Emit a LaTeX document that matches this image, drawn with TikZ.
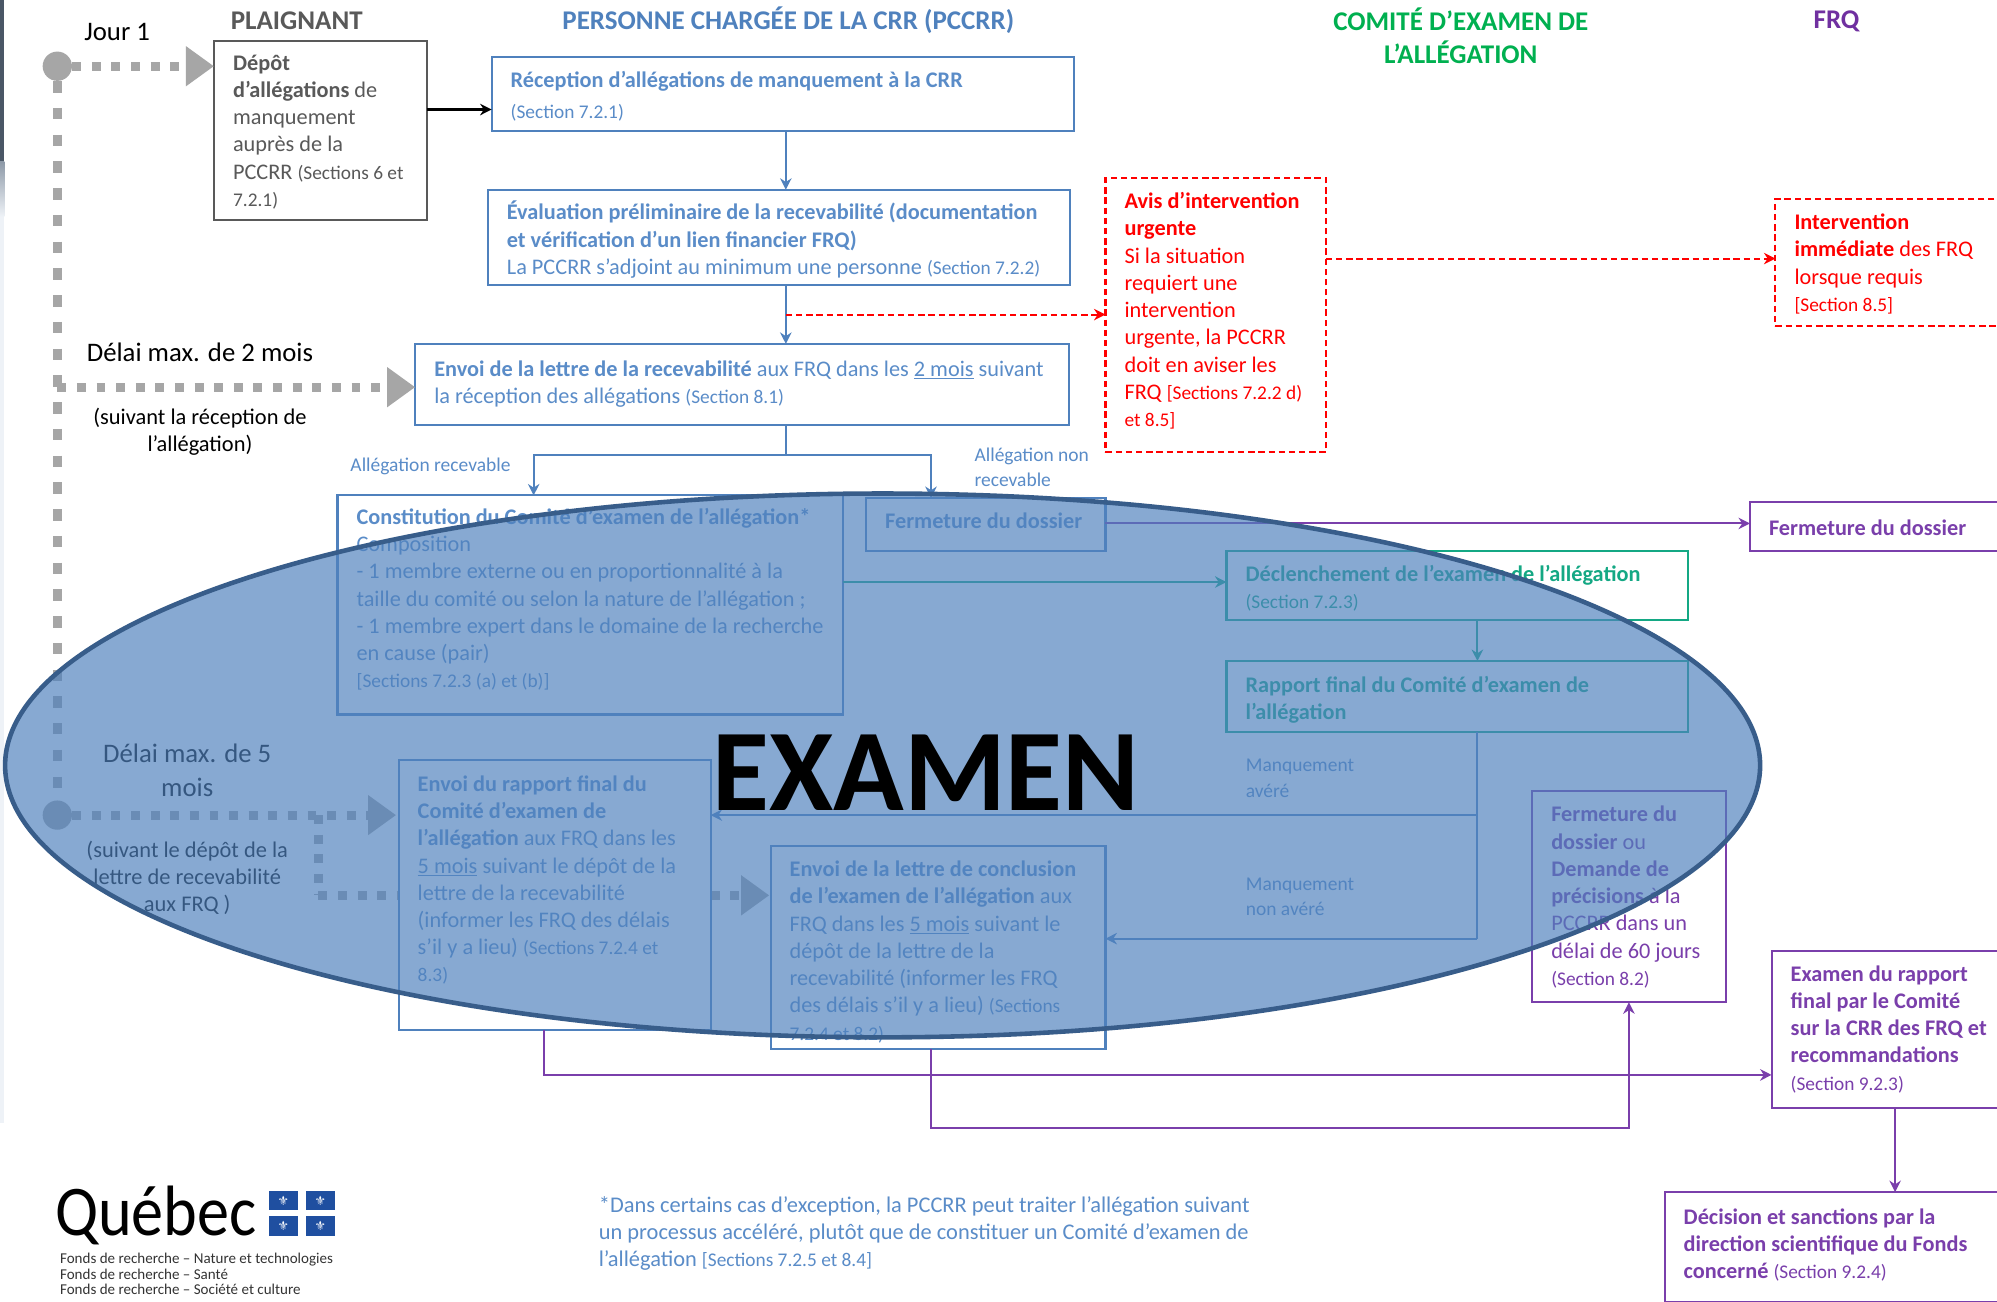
\documentclass[tikz,border=0pt]{standalone}
\usepackage{fontspec}
\setmainfont{Carlito}
\usetikzlibrary{arrows.meta,shadings}
\definecolor{cblue}{HTML}{4F81BD}
\definecolor{tblue}{HTML}{5A8CC8}
\definecolor{cgrey}{HTML}{595959}
\definecolor{cdot}{HTML}{A6A6A6}
\definecolor{cpurple}{HTML}{7A3FAB}
\definecolor{cteal}{HTML}{14A884}
\definecolor{cgreen}{HTML}{00B050}
\definecolor{hpurple}{HTML}{7030A0}
\definecolor{fillell}{HTML}{4F81BD}
\definecolor{edgeell}{HTML}{385D8A}
\definecolor{qcblue}{HTML}{1F4FA0}
\definecolor{edgea}{HTML}{4A5766}
\definecolor{edgeb}{HTML}{8E9AA8}
\definecolor{edgec}{HTML}{EEF2F7}
\newcommand{\smallsec}{\fontsize{15.2}{21.3}\selectfont}
\newcommand{\flowbox}[8]{%
  \pgfmathsetmacro\bw{#4-#2}\pgfmathsetmacro\bh{#5-#3}%
  \node[#6,anchor=north west,inner sep=0pt,outer sep=0pt,minimum width=\bw pt,minimum height=\bh pt,font=\fontsize{17.5}{21.4}\selectfont] (#1) at (#2,#3)
  {\begin{minipage}[c][\bh pt][t]{\bw pt}\raggedright\leftskip=15pt\rightskip=-60pt plus 1fil\relax\vspace*{#7pt}#8\end{minipage}};%
}
\tikzset{
  x=1pt,y=-1pt,
  bluebox/.style={draw=cblue,fill=white,line width=1.6pt,text=tblue},
  greybox/.style={draw=cgrey,fill=white,line width=1.6pt,text=cgrey},
  redbox/.style={draw=red,fill=white,line width=1.6pt,dash pattern=on 5pt off 3pt,text=red},
  purplebox/.style={draw=cpurple,fill=white,line width=1.6pt,text=cpurple},
  tealbox/.style={draw=cteal,fill=white,line width=1.6pt,text=cteal},
  conblue/.style={draw=cblue,line width=1.5pt,-{Stealth[length=9pt,width=9pt]}},
  linblue/.style={draw=cblue,line width=1.5pt},
  conblack/.style={draw=black,line width=1.8pt,-{Stealth[length=9pt,width=9pt]}},
  conred/.style={draw=red,line width=1.6pt,dash pattern=on 5pt off 3pt,-{Stealth[length=9pt,width=9pt]}},
  conpurple/.style={draw=cpurple,line width=1.5pt,-{Stealth[length=9pt,width=9pt]}},
  conteal/.style={draw=cteal,line width=1.5pt,-{Stealth[length=9pt,width=9pt]}},
  dotsh/.style={draw=cdot,line width=7pt,dash pattern=on 7pt off 8.4pt},
  dotsv/.style={draw=cdot,line width=7.5pt,dash pattern=on 9pt off 12pt},
  dotarrow/.style={dotsh,-{Triangle[length=22pt,width=30pt,sep=0pt]}},
  dotnode/.style={circle,fill=cdot,minimum size=23pt,inner sep=0pt},
  head/.style={font=\fontsize{21.2}{26.5}\selectfont\bfseries,align=center},
  delay/.style={font=\fontsize{21}{27}\selectfont,align=center,text=black},
  note/.style={font=\fontsize{17.6}{21.2}\selectfont,align=center,text=black},
  lab/.style={font=\fontsize{15.3}{20}\selectfont,align=left,text=tblue,anchor=west,inner sep=0pt},
  foot/.style={font=\fontsize{17.6}{21.5}\selectfont,align=left,text=tblue,anchor=north west,inner sep=0pt},
  flag/.style={fill=qcblue,minimum width=23pt,minimum height=15.5pt,inner sep=0pt,text=white,font=\fontspec{DejaVu Sans}\fontsize{10}{10}\selectfont},
  fonds/.style={font=\fontsize{11.8}{12}\selectfont,text=black!80,anchor=west,inner sep=0pt},
}
\begin{document}
\begin{tikzpicture}
\useasboundingbox (0,0) rectangle (1568,1021.56);
\clip (0,0) rectangle (1568,1021.56);
% left page edge
\fill[fill=white] (0,0) rectangle (1568,1021.56);
\fill[fill=edgea] (0,0) rectangle (3.5,127);
\shade[top color=edgeb,bottom color=edgec] (0,127) rectangle (3.5,170);
\fill[fill=edgec] (0,170) rectangle (3.5,882);
% column headings
\node[head,text=cgrey] (hplaig) at (233,16) {PLAIGNANT};
\node[head,text=cblue] (hpers) at (619,16) {PERSONNE CHARGÉE DE LA CRR (PCCRR)};
\node[head,text=cgreen] (hcomite) at (1147,28) {COMITÉ D’EXAMEN DE\\L’ALLÉGATION};
\node[head,text=hpurple] (hfrq) at (1442,17) {FRQ};
% time line
\coordinate (rowA) at (0,86);
\coordinate (rowB) at (0,203);
\coordinate (rowC) at (0,247);
\coordinate (rowD) at (0,411);
\coordinate (rowE) at (0,457);
\coordinate (rowF) at (0,640);
\coordinate (rowG) at (0,737);
\coordinate (rowH) at (0,844);
\coordinate (rowI) at (0,886);
\coordinate (rowJ) at (0,357);
\coordinate (rowK) at (0,304);
\coordinate (rowL) at (0,703);
\coordinate (colA) at (617,0);
\coordinate (colB) at (419,0);
\coordinate (colC) at (731,0);
\coordinate (colD) at (1160,0);
\coordinate (colE) at (427,0);
\coordinate (colF) at (1279,0);
\coordinate (colG) at (1488,0);
\coordinate (colH) at (250,0);
\node[dotnode] (start) at (45,52) {};
\node[dotnode] (five) at (45,640) {};
\coordinate (mid) at (45,304);
\coordinate (branchA) at (250,640);
\coordinate (branchB) at (250,703);
\node[delay] (jour) at (92,25) {Jour 1};
\node[delay] (deux) at (157,277) {Délai max. de 2 mois};
\node[note] (deuxb) at (157,339) {(suivant la réception de\\l’allégation)};
\node[delay] (cinq) at (147,605) {Délai max. de 5\\mois};
\node[note] (cinqb) at (147,689) {(suivant le dépôt de la\\lettre de recevabilité\\aux FRQ )};
% boxes
\flowbox{plaig}{168}{32}{335}{173}{greybox}{11}{{\bfseries Dépôt\\d’allégations} de\\manquement\\auprès de la\\PCCRR {\smallsec(Sections 6 et\\7.2.1)}}
\flowbox{recep}{386}{45}{843}{103}{bluebox}{11}{{\bfseries Réception d’allégations de manquement à la CRR}\\[3pt]{\smallsec(Section 7.2.1)}}
\flowbox{evalu}{383}{149}{840}{224}{bluebox}{9}{{\bfseries Évaluation préliminaire de la recevabilité (documentation\\et vérification d’un lien financier FRQ)}\\La PCCRR s’adjoint au minimum une personne {\smallsec(Section 7.2.2)}}
\flowbox{envoi}{326}{270}{839}{334}{bluebox}{13}{{\bfseries Envoi de la lettre de la recevabilité} aux FRQ dans les \underline{2 mois} suivant\\la réception des allégations {\smallsec(Section 8.1)}}
\flowbox{avis}{868}{140}{1041}{355}{redbox}{11}{{\bfseries Avis d’intervention\\urgente}\\Si la situation\\requiert une\\intervention\\urgente, la PCCRR\\doit en aviser les\\FRQ {\smallsec[Sections 7.2.2 d)\\et 8.5]}}
\flowbox{inter}{1394}{156}{1590}{256}{redbox}{12}{{\bfseries Intervention\\immédiate} des FRQ\\lorsque requis\\{\smallsec[Section 8.5]}}
\flowbox{const}{265}{389}{662}{561}{bluebox}{10}{{\bfseries Constitution du Comité d’examen de l’allégation*}\\Composition\\- 1 membre externe ou en proportionnalité à la\\taille du comité ou selon la nature de l’allégation ;\\- 1 membre expert dans le domaine de la recherche\\en cause (pair)\\{\smallsec[Sections 7.2.3 (a) et (b)]}}
\flowbox{ferma}{680}{391}{868}{433}{bluebox}{12}{{\bfseries Fermeture du dossier}}
\flowbox{fermb}{1374}{394}{1590}{433}{purplebox}{14}{{\bfseries Fermeture du dossier}}
\flowbox{decl}{963}{433}{1325}{487}{tealbox}{11}{{\bfseries Déclenchement de l’examen de l’allégation}\\{\smallsec(Section 7.2.3)}}
\flowbox{rappo}{963}{519}{1325}{575}{tealbox}{12}{{\bfseries Rapport final du Comité d’examen de\\l’allégation}}
\flowbox{ferfin}{1203}{621}{1355}{787}{purplebox}{12}{{\bfseries Fermeture du\\dossier} ou\\{\bfseries Demande de\\précisions} à la\\PCCRR dans un\\délai de 60 jours\\{\smallsec(Section 8.2)}}
\flowbox{exam}{1391}{747}{1590}{870}{purplebox}{11}{{\bfseries Examen du rapport\\final par le Comité\\sur la CRR des FRQ et\\recommandations}\\{\smallsec(Section 9.2.3)}}
\flowbox{decis}{1307}{936}{1590}{1022}{purplebox}{13}{{\bfseries Décision et sanctions par la\\direction scientifique du Fonds\\concerné} {\smallsec(Section 9.2.4)}}
% dotted time connectors (they run beneath the white boxes)
\draw[dotsv] (start.south) -- (five.north);
\draw[dotarrow] (start.east) -- (plaig.west |- start);
\draw[dotarrow] (mid) -- (envoi.west |- mid);
\draw[dotarrow] (five.east) -- (311,640);
\draw[dotsh] (branchA) -- (branchB);
\draw[dotarrow] (branchB) -- (604,703);
% boxes over the dotted line
\flowbox{erapp}{313}{597}{558}{809}{bluebox}{12}{{\bfseries Envoi du rapport final du\\Comité d’examen de\\l’allégation} aux FRQ dans les\\\underline{5 mois} suivant le dépôt de la\\lettre de la recevabilité\\(informer les FRQ des délais\\s’il y a lieu) {\smallsec(Sections 7.2.4 et\\8.3)}}
\flowbox{econc}{605}{664}{868}{824}{bluebox}{12}{{\bfseries Envoi de la lettre de conclusion\\de l’examen de l’allégation} aux\\FRQ dans les \underline{5 mois} suivant le\\dépôt de la lettre de la\\recevabilité (informer les FRQ\\des délais s’il y a lieu) {\smallsec(Sections\\7.2.4 et 8.2)}}
% connectors
\draw[conblack] (plaig.east |- rowA) -- (recep.west |- rowA);
\draw[conblue] (recep.south -| colA) -- (evalu.north -| colA);
\draw[conblue] (evalu.south -| colA) -- (envoi.north -| colA);
\draw[conred] (rowC -| colA) -- (avis.west |- rowC);
\draw[conred] (avis.east |- rowB) -- (inter.west |- rowB);
\draw[linblue] (envoi.south -| colA) -- (rowJ -| colA);
\draw[conblue] (rowJ -| colC) -- (rowJ -| colB) -- (const.north -| colB);
\draw[conblue] (rowJ -| colB) -- (rowJ -| colC) -- (ferma.north -| colC);
\draw[conpurple] (ferma.east |- rowD) -- (fermb.west |- rowD);
\draw[conteal] (const.east |- rowE) -- (decl.west |- rowE);
\draw[conteal] (decl.south -| colD) -- (rappo.north -| colD);
\draw[linblue] (rappo.south -| colD) -- (rowG -| colD);
\draw[conblue] (rowF -| colD) -- (erapp.east |- rowF);
\draw[conblue] (rowG -| colD) -- (econc.east |- rowG);
\draw[conpurple] (erapp.south -| colE) -- (rowH -| colE) -- (exam.west |- rowH);
\draw[conpurple] (econc.south -| colC) -- (rowI -| colC) -- (rowI -| colF) -- (ferfin.south -| colF);
\draw[conpurple] (exam.south -| colG) -- (decis.north -| colG);
% connector labels
\node[lab] (lrec) at (275,366) {Allégation recevable};
\node[lab] (lnon) at (765,367) {Allégation non\\recevable};
\node[lab] (lman) at (978,611) {Manquement\\avéré};
\node[lab] (lmnon) at (978,704) {Manquement\\non avéré};
% footnote and signature
\node[foot] (fnote) at (470,939) {*Dans certains cas d’exception, la PCCRR peut traiter l’allégation suivant\\un processus accéléré, plutôt que de constituer un Comité d’examen de\\l’allégation {\fontsize{15.2}{21.5}\selectfont [Sections 7.2.5 et 8.4]}};
\node[font=\fontsize{56}{56}\selectfont,text=black,anchor=base west,inner sep=0pt] (quebec) at (43,970) {\scalebox{.9}[1]{Québec}};
\node[flag] (fa) at (222.5,942.5) {⚜};
\node[flag] (fb) at (251.5,942.5) {⚜};
\node[flag] (fc) at (222.5,962.5) {⚜};
\node[flag] (fd) at (251.5,962.5) {⚜};
\node[fonds] (fna) at (47,989) {Fonds de recherche – Nature et technologies};
\node[fonds] (fnb) at (47,1000.5) {Fonds de recherche – Santé};
\node[fonds] (fnc) at (47,1012.5) {Fonds de recherche – Société et culture};
% overlay
\draw[draw=edgeell,line width=3.6pt,fill=fillell,fill opacity=0.68] (693,601) ellipse [x radius=689,y radius=213.5];
\node[font=\fontsize{91.5}{91.5}\selectfont\bfseries,text=black,inner sep=0pt] (examen) at (727,607) {EXAMEN};
\end{tikzpicture}
\end{document}
